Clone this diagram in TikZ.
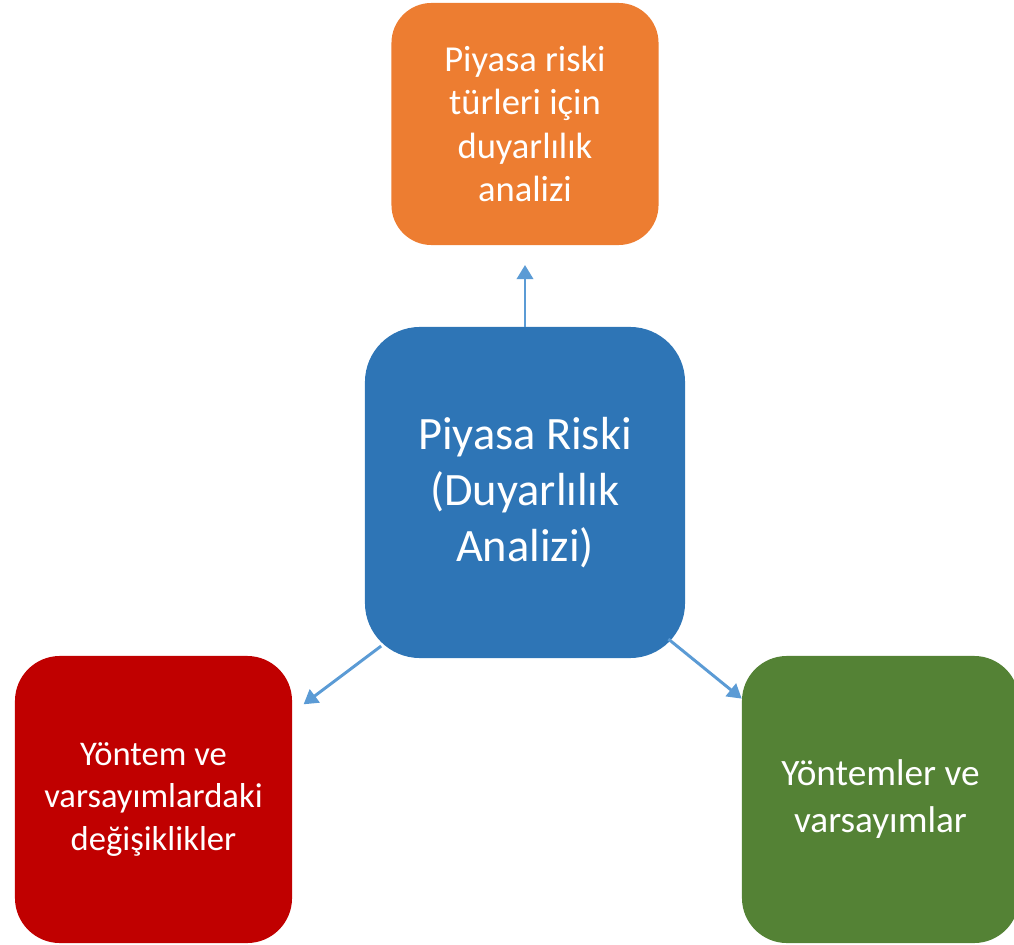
\documentclass[tikz,border=0pt]{standalone}
\usepackage{fontspec}
\setmainfont{Carlito}
\usepackage{xcolor}
\definecolor{RiskOrange}{HTML}{ED7D31}
\definecolor{RiskBlue}{HTML}{2E75B6}
\definecolor{RiskRed}{HTML}{C00000}
\definecolor{RiskGreen}{HTML}{548235}
\definecolor{ArrowBlue}{HTML}{5B9BD5}
\usetikzlibrary{arrows.meta}
\tikzset{
  box/.style={
    rectangle, rounded corners=#1,
    text=white, align=center,
    inner sep=0pt
  },
  box/.default=1cm,
  arr/.style={-{Triangle[length=10pt, width=11.5pt]}, line width=2.1pt, color=ArrowBlue},
}

\begin{document}
\begin{tikzpicture}[x=0.025cm, y=-0.025cm]
\useasboundingbox (0,0) rectangle (1014,945);

% Centre box
\node[box=1.375cm, fill=RiskBlue, minimum width=8cm, minimum height=8.275cm,
  font=\fontsize{33}{40}\selectfont] at (525,492.5) (risk) {
  Piyasa Riski\\
  (Duyarlılık\\
  Analizi)
};

% Three outer boxes
\node[box, fill=RiskOrange, minimum width=6.675cm, minimum height=6.05cm,
  font=\fontsize{26}{31}\selectfont] at (525,124) (sens) {
  Piyasa riski\\
  türleri için\\
  duyarlılık\\
  analizi
};

\node[box=1.125cm, fill=RiskRed, minimum width=6.925cm, minimum height=7.175cm,
  font=\fontsize{24.6}{30.5}\selectfont] at (153.5,799.5) (chg) {
  Yöntem ve\\
  varsayımlardaki\\
  değişiklikler
};

\node[box=1.125cm, fill=RiskGreen, minimum width=6.925cm, minimum height=7.175cm,
  font=\fontsize{26.5}{33.5}\selectfont] at (880.5,799.5) (meth) {
  Yöntemler ve\\
  varsayımlar
};

% Arrows out of the centre box
\draw[arr, shorten >=14pt] (risk.north) -- (sens.south);
\draw[arr, shorten <=-14.5pt, shorten >=10pt] (risk.-134.7) -- (chg.32.7);
\draw[arr, shorten <=-15.5pt] (risk.-45.4) -- (meth.144.3);

\end{tikzpicture}
\end{document}
